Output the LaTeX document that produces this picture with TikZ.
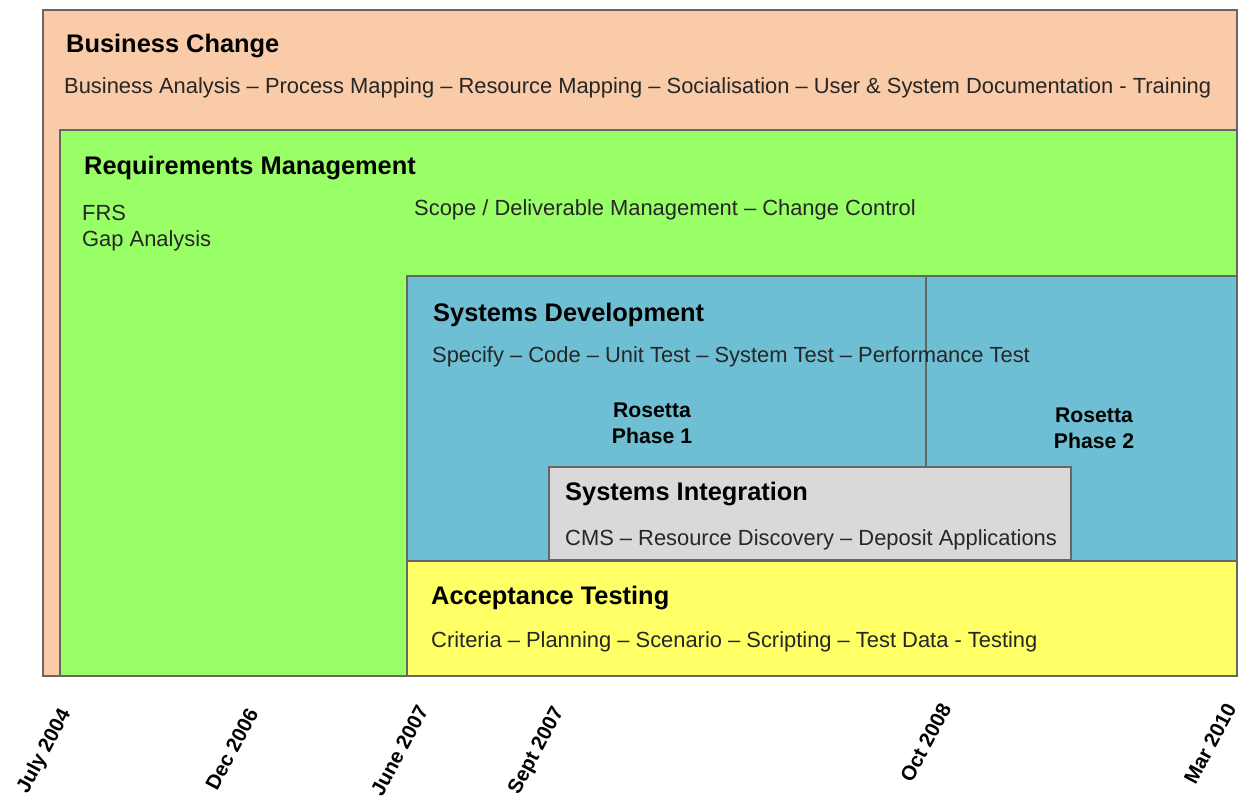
\documentclass[tikz,border=0pt]{standalone}
\usepackage{fontspec}
\setmainfont{Liberation Sans}
\begin{document}
\begin{tikzpicture}[x=1pt,y=-1pt,
  box/.style={draw=black!60, line width=1.6pt, anchor=north west, inner sep=0pt, outer sep=0pt},
  head/.style={anchor=base west, inner sep=0pt, font=\fontsize{25.4}{30}\selectfont\bfseries},
  body/.style={anchor=base west, inner sep=0pt, text=black!85, font=\fontsize{21.9}{26}\selectfont},
  phase/.style={anchor=base, inner sep=0pt, align=center, font=\fontsize{21.2}{26}\selectfont\bfseries},
  date/.style={anchor=base east, inner sep=0pt, rotate=62, font=\fontsize{20.5}{24}\selectfont\bfseries}]
\definecolor{peach}{HTML}{FACBA8}
\definecolor{lgreen}{HTML}{99FF66}
\definecolor{sblue}{HTML}{6EBFD3}
\definecolor{sgray}{HTML}{D9D9D9}
\definecolor{syellow}{HTML}{FFFF66}
\useasboundingbox (0,0) rectangle (1240,798);
\fill[white] (0,0) rectangle (1240,798);
% boxes
\node[box, fill=peach, minimum width=1194pt, minimum height=666pt] (bc) at (43,10) {};
\node[box, fill=lgreen, minimum width=1177pt, minimum height=546pt] (rm) at (60,130) {};
\node[box, fill=sblue, minimum width=830pt, minimum height=285pt] (sd) at (407,276) {};
\node[box, fill=syellow, minimum width=830pt, minimum height=115pt] (at) at (407,561) {};
\node[box, fill=sgray, minimum width=522pt, minimum height=93pt] (si) at (549,467) {};
\coordinate (ltop) at (926,276);
\coordinate (lbot) at (926,467);
\draw[black!60, line width=1.4pt] (ltop) -- (lbot);
% texts
\node[head] (t1) at (66,52) {Business Change};
\node[body] (t2) at (64,93) {Business Analysis -- Process Mapping -- Resource Mapping -- Socialisation -- User \& System Documentation - Training};
\node[head] (t3) at (84,174) {Requirements Management};
\node[body] (t4) at (82,220) {FRS};
\node[body] (t5) at (82,246) {Gap Analysis};
\node[body] (t6) at (414,215) {Scope / Deliverable Management -- Change Control};
\node[head] (t7) at (433,321) {Systems Development};
\node[body] (t8) at (432,362) {Specify -- Code -- Unit Test -- System Test -- Performance Test};
\node[phase] (p1a) at (652,417) {Rosetta};
\node[phase] (p1b) at (652,443) {Phase 1};
\node[phase] (p2a) at (1094,422) {Rosetta};
\node[phase] (p2b) at (1094,448) {Phase 2};
\node[head] (t9) at (565,500) {Systems Integration};
\node[body] (t10) at (565,545) {CMS -- Resource Discovery -- Deposit Applications};
\node[head] (t11) at (431,604) {Acceptance Testing};
\node[body] (t12) at (431,647) {Criteria -- Planning -- Scenario -- Scripting -- Test Data - Testing};
% dates
\node[date] (d1) at (71,713) {July 2004};
\node[date] (d2) at (259,713) {Dec 2006};
\node[date] (d3) at (429,710) {June 2007};
\node[date] (d4) at (564,711) {Sept 2007};
\node[date] (d5) at (952,708) {Oct 2008};
\node[date] (d6) at (1237,708) {Mar 2010};
\end{tikzpicture}
\end{document}
